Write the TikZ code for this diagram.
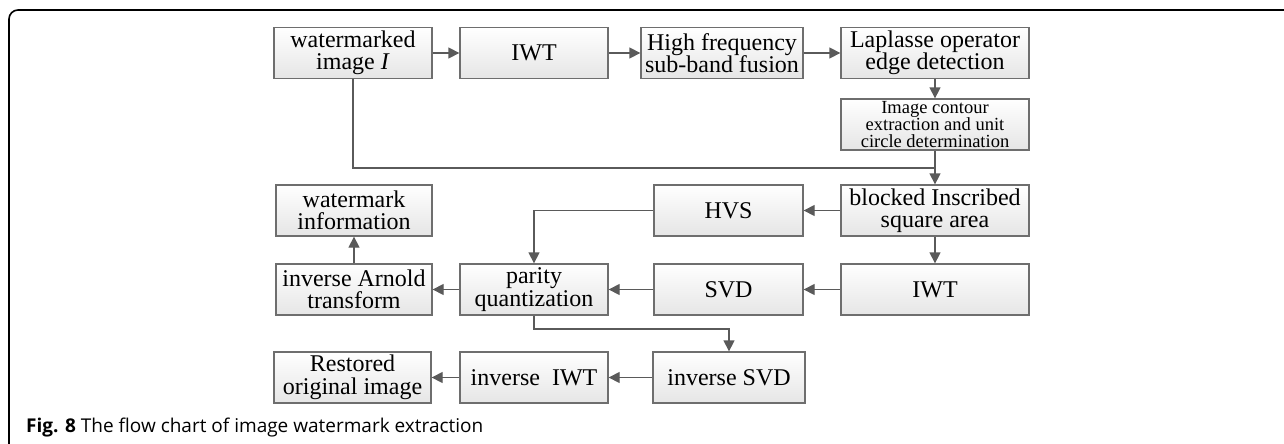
\documentclass[tikz,border=0pt]{standalone}
\usepackage{fontspec}
\setmainfont{Liberation Serif}
\newfontfamily\capfont{Open Sans}
\usetikzlibrary{arrows.meta,calc}
\definecolor{boxline}{HTML}{6E6E6E}
\definecolor{arrline}{HTML}{5A5A5A}
\tikzset{
  stepbox/.style={draw=boxline, line width=1.3pt, top color=white, bottom color=black!10,
    align=center, inner sep=0pt, minimum height=51pt,
    font=\fontsize{24}{22.5}\selectfont},
  smallbox/.style={stepbox, font=\fontsize{18.5}{17}\selectfont},
  arr/.style={draw=arrline, line width=1.3pt, -{Triangle[length=11pt,width=11pt]}},
  ln/.style={draw=arrline, line width=1.3pt},
}
\begin{document}
\begin{tikzpicture}[x=1pt,y=-1pt]
\useasboundingbox (0,0) rectangle (1284,444);
% frame
\draw[line width=1.6pt, rounded corners=9pt] (9,444) -- (9,10) -- (1284,10);
% row 1
\node[stepbox, minimum width=158pt] (wm) at (353,53) {watermarked\\image \textit{I}};
\node[stepbox, minimum width=148pt] (iwta) at (534,53) {IWT};
\node[stepbox, minimum width=162pt] (hf) at (722,53) {High frequency\\sub-band fusion};
\node[stepbox, minimum width=188pt] (lap) at (935,53) {Laplasse operator\\edge detection};
\node[smallbox, minimum width=188pt] (cont) at (935,124.5) {Image contour\\extraction and unit\\circle determination};
% row 3
\node[stepbox, minimum width=188pt] (blk) at (935,210.5) {blocked Inscribed\\square area};
\node[stepbox, minimum width=149pt] (hvs) at (728.5,210.5) {HVS};
\node[stepbox, minimum width=156pt] (wmi) at (354,210.5) {watermark\\information};
% row 4
\node[stepbox, minimum width=156pt] (arn) at (354,289.5) {inverse Arnold\\transform};
\node[stepbox, minimum width=148pt] (par) at (534,289.5) {parity\\quantization};
\node[stepbox, minimum width=149pt] (svd) at (728.5,289.5) {SVD};
\node[stepbox, minimum width=188pt] (iwtb) at (935,289.5) {IWT};
% row 5
\node[stepbox, minimum width=152pt] (isvd) at (729,377.5) {inverse SVD};
\node[stepbox, minimum width=148pt] (iiwt) at (534,377.5) {inverse\ \ IWT};
\node[stepbox, minimum width=157pt] (rest) at (352.5,377.5) {Restored\\original image};
% connectors
\draw[arr] (wm) -- (iwta);
\draw[arr] (iwta) -- (hf);
\draw[arr] (hf) -- (lap);
\draw[arr] (lap) -- (cont);
\draw[arr] (cont) -- (blk);
\coordinate (j) at (935,168);
\draw[ln] (wm.south) |- (j);
\draw[arr] (blk) -- (hvs);
\draw[arr] (hvs.west) -| (par.north);
\draw[arr] (blk) -- (iwtb);
\draw[arr] (iwtb) -- (svd);
\draw[arr] (svd) -- (par);
\draw[arr] (par) -- (arn);
\draw[arr] (arn) -- (wmi);
\coordinate (k) at (534,329);
\draw[arr] (par.south) -- (k) -| (isvd.north);
\draw[arr] (isvd) -- (iiwt);
\draw[arr] (iiwt) -- (rest);
% caption
\node[anchor=base west, inner sep=0pt, font=\capfont\fontsize{19}{21}\selectfont] (cap) at (26,432) {\textbf{Fig. 8} The flow chart of image watermark extraction};
\end{tikzpicture}
\end{document}
